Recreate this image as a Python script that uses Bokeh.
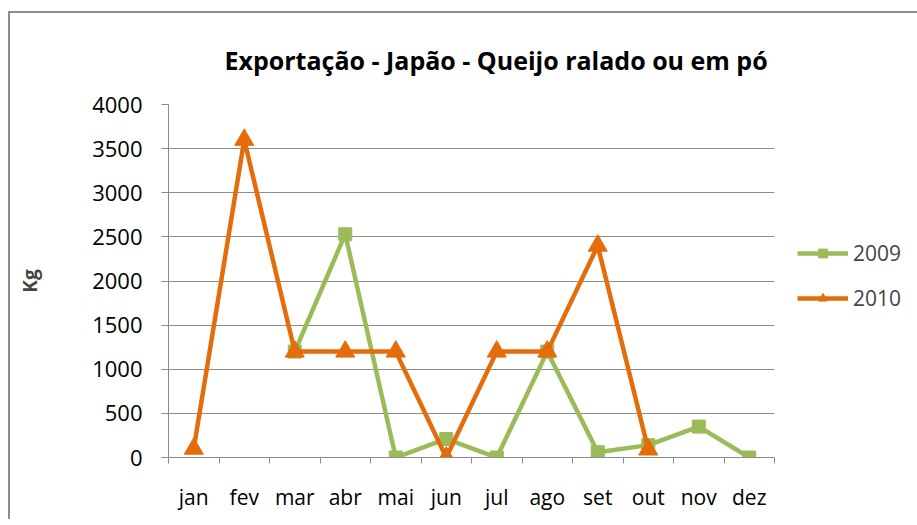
import numpy as np
from bokeh.plotting import figure
from bokeh.models import (FixedTicker, Range1d, Legend, LegendItem)
from bokeh.embed import file_html
from bokeh.resources import INLINE

months = ["jan", "fev", "mar", "abr", "mai", "jun", "jul", "ago", "set", "out", "nov", "dez"]
s2009 = [np.nan, np.nan, 1200, 2530, 0, 210, 0, 1200, 60, 140, 350, 0]
s2010 = [100, 3600, 1200, 1200, 1200, 0, 1200, 1200, 2400, 90, np.nan, np.nan]
y_ticks = [0, 500, 1000, 1500, 2000, 2500, 3000, 3500, 4000]
title_text = "Exportação - Japão - Queijo ralado ou em pó"
y_label = "Kg"

GREEN = "#9BBB59"
ORANGE = "#E46C0A"
GRID = "#8c8c8c"
FONT = "Open Sans"

x = np.arange(len(months)) + 0.5

p = figure(frame_width=606, frame_height=353, output_backend="svg", toolbar_location=None,
           x_range=Range1d(0, len(months)), y_range=Range1d(0, 4000),
           min_border_left=158, min_border_right=130, min_border_top=91,
           min_border_bottom=62, title=title_text)
p.outline_line_color = None
p.background_fill_color = "white"
p.border_fill_color = "white"

p.title.align = "left"
p.title.offset = 56
p.title.standoff = 55
p.title.text_font = FONT
p.title.text_font_style = "bold"
p.title.text_font_size = "25px"
p.title.text_color = "black"

# x axis
p.xaxis.ticker = FixedTicker(ticks=list(x), minor_ticks=list(range(len(months) + 1)))
p.xaxis.major_label_overrides = {float(v): m for v, m in zip(x, months)}
p.xaxis.major_tick_line_color = None
p.xaxis.minor_tick_line_color = GRID
p.xaxis.minor_tick_in = 0
p.xaxis.minor_tick_out = 6
p.xaxis.axis_line_color = GRID
p.xaxis.major_label_text_font = FONT
p.xaxis.major_label_text_font_size = "21px"
p.xaxis.major_label_text_color = "black"
p.xaxis.major_label_standoff = 19

# y axis
p.yaxis.ticker = FixedTicker(ticks=y_ticks, minor_ticks=[])
p.yaxis.major_tick_line_color = GRID
p.yaxis.major_tick_in = 0
p.yaxis.major_tick_out = 7
p.yaxis.axis_line_color = GRID
p.yaxis.major_label_text_font = FONT
p.yaxis.major_label_text_font_size = "22px"
p.yaxis.major_label_text_color = "black"
p.yaxis.major_label_standoff = 19
p.yaxis.axis_label = y_label
p.yaxis.axis_label_text_font = FONT
p.yaxis.axis_label_text_font_style = "bold"
p.yaxis.axis_label_text_font_size = "19px"
p.yaxis.axis_label_standoff = 46

p.xgrid.grid_line_color = None
p.ygrid.ticker = FixedTicker(ticks=y_ticks)
p.ygrid.grid_line_color = GRID
p.ygrid.grid_line_width = 1

l1 = p.line(x, s2009, line_color=GREEN, line_width=4.5)
m1 = p.scatter(x, s2009, marker="square", size=13, fill_color=GREEN, line_color=GREEN)
l2 = p.line(x, s2010, line_color=ORANGE, line_width=4.5)
m2 = p.scatter(x, s2010, marker="triangle", size=19, fill_color=ORANGE, line_color=ORANGE)

legend = Legend(items=[LegendItem(label="2009", renderers=[l1, m1]),
                       LegendItem(label="2010", renderers=[l2, m2])],
                location=(23, 145), glyph_width=51, glyph_height=22,
                label_height=22, spacing=17, padding=0, margin=0,
                label_standoff=5, border_line_color=None,
                background_fill_alpha=0, label_text_font=FONT,
                label_text_font_size="21px")
p.add_layout(legend, "right")

p.styles = {"border-top": "2px solid #8c8c8c", "border-left": "2px solid #8c8c8c",
            "margin-left": "8px", "margin-top": "11px"}

open("out.html", "w").write(file_html(p, INLINE))
